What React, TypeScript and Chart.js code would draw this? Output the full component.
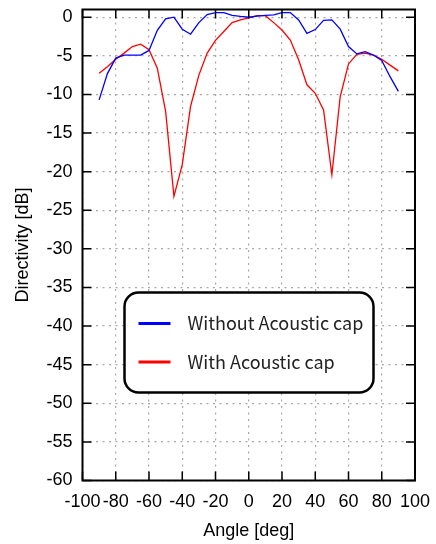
import React, { useEffect, useRef } from "react";
import { Chart, registerables } from "chart.js";

Chart.register(...registerables);

const angles = [-90, -85, -80, -75, -70, -65, -60, -55, -50, -45, -40, -35, -30, -25, -20, -15, -10, -5, 0, 5, 10, 15, 20, 25, 30, 35, 40, 45, 50, 55, 60, 65, 70, 75, 80, 85, 90];
const withoutCap = [-10.7, -7.3, -5.3, -4.9, -4.9, -4.9, -4.3, -1.7, -0.2, 0, -1.55, -2.2, -0.7, 0.35, 0.6, 0.6, 0.25, 0.1, 0, 0.15, 0.25, 0.3, 0.6, 0.6, -0.35, -2.1, -1.6, -0.4, -0.35, -1.55, -3.8, -4.75, -4.45, -4.9, -5.6, -7.7, -9.6];
const withCap = [-7.25, -6.4, -5.45, -4.65, -3.8, -3.5, -4.2, -6.6, -12.2, -23.2, -19.1, -11.55, -7.5, -4.65, -3.0, -1.85, -0.7, -0.35, -0.1, 0.2, 0.2, -0.7, -1.65, -2.95, -5.5, -8.75, -9.85, -12.0, -20.4, -10.3, -6.05, -4.8, -4.65, -4.9, -5.45, -6.2, -6.95];
const seriesLabels = ["Without Acoustic cap", "With Acoustic cap"];
const xTicks = [-100, -80, -60, -40, -20, 0, 20, 40, 60, 80, 100];
const yTicks = [-60, -55, -50, -45, -40, -35, -30, -25, -20, -15, -10, -5, 0];

const FONT = "'Liberation Sans', Arial, sans-serif";

const framePlugin = {
  id: "frame",
  afterDatasetsDraw(chart: any) {
    const { ctx, chartArea, scales } = chart;
    const { left, right, top, bottom } = chartArea;
    ctx.save();
    ctx.strokeStyle = "#000";
    ctx.lineWidth = 1.5;
    ctx.beginPath();
    const tl = 9;
    xTicks.forEach((v) => {
      const px = scales.x.getPixelForValue(v);
      ctx.moveTo(px, bottom);
      ctx.lineTo(px, bottom - tl);
      ctx.moveTo(px, top);
      ctx.lineTo(px, top + tl);
    });
    yTicks.forEach((v) => {
      const py = scales.y.getPixelForValue(v);
      ctx.moveTo(left, py);
      ctx.lineTo(left + tl, py);
      ctx.moveTo(right, py);
      ctx.lineTo(right - tl, py);
    });
    ctx.stroke();
    ctx.lineWidth = 2;
    ctx.strokeRect(left, top, right - left, bottom - top);

    // legend
    const bx = left + 42, by = top + 283, bw = 249, bh = 100, r = 14;
    ctx.beginPath();
    ctx.moveTo(bx + r, by);
    ctx.lineTo(bx + bw - r, by);
    ctx.arcTo(bx + bw, by, bx + bw, by + r, r);
    ctx.lineTo(bx + bw, by + bh - r);
    ctx.arcTo(bx + bw, by + bh, bx + bw - r, by + bh, r);
    ctx.lineTo(bx + r, by + bh);
    ctx.arcTo(bx, by + bh, bx, by + bh - r, r);
    ctx.lineTo(bx, by + r);
    ctx.arcTo(bx, by, bx + r, by, r);
    ctx.closePath();
    ctx.fillStyle = "#fff";
    ctx.fill();
    ctx.lineWidth = 2.5;
    ctx.strokeStyle = "#000";
    ctx.stroke();
    chart.data.datasets.forEach((ds: any, i: number) => {
      const ly = by + 31 + i * 38.5;
      ctx.beginPath();
      ctx.strokeStyle = ds.borderColor;
      ctx.lineWidth = 3;
      ctx.moveTo(bx + 14, ly);
      ctx.lineTo(bx + 46, ly);
      ctx.stroke();
      ctx.fillStyle = "#222";
      ctx.font = "18px 'Noto Sans CJK JP', 'Noto Sans', sans-serif";
      ctx.textBaseline = "middle";
      ctx.textAlign = "left";
      ctx.fillText(ds.label, bx + 63, ly);
    });
    ctx.restore();
  },
};

export default function App() {
  const ref = useRef<HTMLCanvasElement | null>(null);
  useEffect(() => {
    document.body.style.margin = "0";
    const chart = new Chart(ref.current as HTMLCanvasElement, {
      type: "line",
      data: {
        datasets: [
          {
            label: seriesLabels[0],
            data: angles.map((a, i) => ({ x: a, y: withoutCap[i] })),
            borderColor: "#0000ff",
            borderWidth: 1.3,
            pointRadius: 0,
            tension: 0,
          },
          {
            label: seriesLabels[1],
            data: angles.map((a, i) => ({ x: a, y: withCap[i] })),
            borderColor: "#ff0000",
            borderWidth: 1.3,
            pointRadius: 0,
            tension: 0,
          },
        ],
      },
      options: {
        animation: false,
        responsive: false,
        maintainAspectRatio: false,
        layout: { padding: { top: 9.5, right: 21, left: 0, bottom: 0 } },
        plugins: { legend: { display: false }, tooltip: { enabled: false } },
        scales: {
          x: {
            type: "linear",
            min: -100,
            max: 100,
            afterBuildTicks: (s: any) => {
              s.ticks = xTicks.map((v) => ({ value: v }));
            },
            afterFit: (s: any) => {
              s.height = 63.5;
              s.paddingLeft = 0;
              s.paddingRight = 0;
              s.paddingTop = 0;
              s.paddingBottom = 0;
            },
            grid: { color: "#a8a8a8", lineWidth: 1.2, drawTicks: false, tickLength: 0 },
            border: { display: false, dash: [2, 4.5] },
            ticks: { color: "#000", padding: 11, maxRotation: 0, autoSkip: false, font: { family: FONT, size: 18 } },
            title: { display: true, text: "Angle [deg]", color: "#000", padding: { top: 0, bottom: 2 }, font: { family: FONT, size: 18 } },
          },
          y: {
            type: "linear",
            min: -60,
            max: 1,
            afterBuildTicks: (s: any) => {
              s.ticks = yTicks.map((v) => ({ value: v }));
            },
            afterFit: (s: any) => {
              s.width = 82.5;
              s.paddingLeft = 0;
              s.paddingRight = 0;
              s.paddingTop = 0;
              s.paddingBottom = 0;
            },
            grid: { color: "#a8a8a8", lineWidth: 1.2, drawTicks: false, tickLength: 0 },
            border: { display: false, dash: [2, 4.5] },
            ticks: { color: "#000", padding: 10, autoSkip: false, font: { family: FONT, size: 18 } },
            title: { display: true, text: "Directivity [dB]", color: "#000", padding: { top: 12, bottom: 0 }, font: { family: FONT, size: 18 } },
          },
        },
      },
      plugins: [framePlugin],
    } as any);
    return () => chart.destroy();
  }, []);
  return (
    <div style={{ position: "absolute", left: 0, top: 0, width: 436, height: 544 }}>
      <canvas ref={ref} width={436} height={544} style={{ width: 436, height: 544, display: "block" }} />
    </div>
  );
}
